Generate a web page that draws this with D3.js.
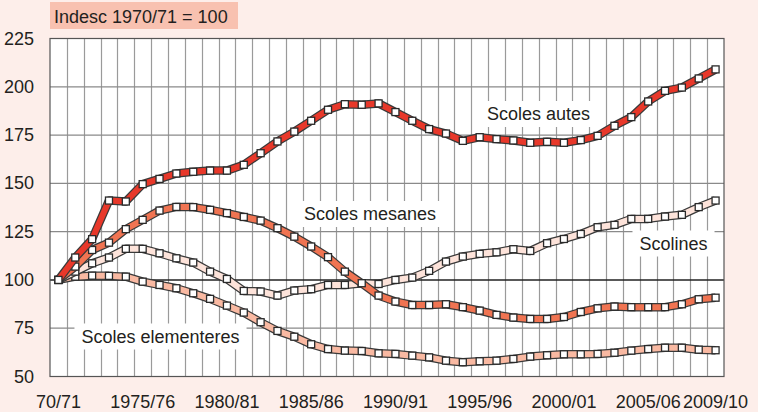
<!DOCTYPE html>
<html>
<head>
<meta charset="utf-8">
<script src="https://cdn.jsdelivr.net/npm/d3@7"></script>
<style>
  body { margin: 0; background: #fdeeea; }
  svg { display: block; font-family: "Liberation Sans", Arial, sans-serif; }
</style>
</head>
<body>
<div id="chart"></div>
<script>
// school years 1970/71 .. 2009/10
var years = d3.range(1970, 2010).map(function (y) {
    return y + "/" + String((y + 1) % 100).padStart(2, "0");
});
var tickYears = ["1970/71", "1975/76", "1980/81", "1985/86", "1990/91", "1995/96", "2000/01", "2005/06", "2009/10"];
var tickLabels = ["70/71", "1975/76", "1980/81", "1985/86", "1990/91", "1995/96", "2000/01", "2005/06", "2009/10"];
var yTicks = [50, 75, 100, 125, 150, 175, 200, 225];

var autes = [100, 111.6, 121.1, 141.1, 140.6, 149.6, 152.3, 155.1, 156, 156.6,
    156.6, 159.6, 165.6, 171.7, 176.8, 182.4, 188.1, 191, 190.7, 191.4,
    186.9, 182.4, 178.1, 175.8, 172, 173.9, 172.9, 172.2, 171, 171.5,
    171, 172.4, 174.6, 179.8, 184.3, 192.4, 197.9, 199.6, 204.3, 209];
var mesanes = [100, 106.9, 115.5, 119.3, 126.3, 131.1, 135.9, 137.8, 137.7, 136.3,
    134.6, 132.6, 130.7, 126.8, 122.4, 117.3, 111.8, 104.3, 98.3, 91.9,
    88.8, 87, 87, 87.4, 85.9, 84.1, 81.9, 80.5, 79.8, 79.8,
    80.8, 83.4, 85.3, 86.2, 85.9, 85.9, 85.9, 87.4, 90, 90.8];
var scolines = [100, 104.3, 108.6, 111.6, 116.1, 116.1, 113.8, 111.2, 109, 104.3,
    100.5, 94.3, 94, 91.9, 94.5, 95.2, 97.4, 97.4, 98.3, 97.9,
    100, 101.2, 104.7, 109.5, 112.1, 113.5, 114.3, 115.9, 115, 119,
    121.2, 123.8, 127.3, 128.5, 131.6, 131.6, 132.8, 133.7, 137.7, 141.1];
var elementeres = [100, 101.7, 102.2, 102.1, 101.7, 99.1, 97.4, 95.7, 93.1, 90.2,
    86.7, 83.1, 78.1, 73.6, 70.6, 66.7, 64.2, 63.4, 63.2, 62,
    61.7, 60.8, 59.9, 58.2, 57.4, 57.9, 58.2, 59.1, 60.3, 61,
    61.5, 61.5, 61.7, 62.3, 63.4, 64.2, 64.9, 64.9, 63.9, 63.6];

var series = [
    { name: "Scoles elementeres", values: elementeres, color: "#f9b9a2", lx: 160.5, ly: 336.5 },
    { name: "Scolines", values: scolines, color: "#fde3da", lx: 673.5, ly: 243.5 },
    { name: "Scoles mesanes", values: mesanes, color: "#f07452", lx: 370, ly: 214 },
    { name: "Scoles autes", values: autes, color: "#e8382a", lx: 538.5, ly: 114 }
];

var width = 758, height = 412;
var margin = { top: 38.5, right: 34, bottom: 35.5, left: 50 };

var svg = d3.select("#chart").append("svg")
    .attr("width", width)
    .attr("height", height);

var x = d3.scaleBand().domain(years).range([margin.left, width - margin.right]);
var y = d3.scaleLinear().domain([50, 225]).range([height - margin.bottom, margin.top]);
var cx = function (i) { return x(years[i]) + x.bandwidth() / 2; };

// title box
var title = svg.append("g");
title.append("rect")
    .attr("x", margin.left).attr("y", 2)
    .attr("width", 188).attr("height", 27)
    .attr("fill", "#f8c1b0");
title.append("text")
    .attr("x", margin.left + 4).attr("y", 22.5)
    .attr("font-size", 18).attr("fill", "#231f20")
    .text("Indesc 1970/71 = 100");

// plot area
svg.append("rect")
    .attr("x", margin.left).attr("y", margin.top)
    .attr("width", width - margin.left - margin.right)
    .attr("height", height - margin.top - margin.bottom)
    .attr("fill", "#fff");

// vertical grid at band edges
svg.append("g").selectAll("line")
    .data(years.slice(1))
    .join("line")
    .attr("x1", function (d) { return Math.round(x(d)) + 0.5; })
    .attr("x2", function (d) { return Math.round(x(d)) + 0.5; })
    .attr("y1", margin.top).attr("y2", height - margin.bottom)
    .attr("stroke", "#9a9a9a").attr("stroke-width", 1.2);

// horizontal grid
svg.append("g").selectAll("line")
    .data(yTicks)
    .join("line")
    .attr("x1", margin.left).attr("x2", width - margin.right)
    .attr("y1", function (d) { return y(d); })
    .attr("y2", function (d) { return y(d); })
    .attr("stroke", function (d) { return d == 100 ? "#222" : "#8a8a8a"; })
    .attr("stroke-width", function (d) { return d == 100 ? 1.4 : 1.2; });

// frame
svg.append("rect")
    .attr("x", margin.left).attr("y", margin.top)
    .attr("width", width - margin.left - margin.right)
    .attr("height", height - margin.bottom - margin.top)
    .attr("fill", "none").attr("stroke", "#555").attr("stroke-width", 1.2);

// label boxes (white behind text, hide grid)
series.forEach(function (s) {
    var t = svg.append("text")
        .attr("x", s.lx).attr("y", s.ly)
        .attr("text-anchor", "middle").attr("dominant-baseline", "central")
        .attr("font-size", 18).attr("fill", "#231f20")
        .text(s.name);
    var bb = t.node().getBBox();
    svg.insert("rect", function () { return t.node(); })
        .attr("x", bb.x - 7).attr("y", bb.y - 3)
        .attr("width", bb.width + 14).attr("height", bb.height + 6)
        .attr("fill", "#fff");
});

var line = d3.line()
    .x(function (d, i) { return cx(i); })
    .y(function (d) { return y(d); });

series.forEach(function (s) {
    var g = svg.append("g");
    g.append("path")
        .attr("d", line(s.values))
        .attr("fill", "none").attr("stroke", "#3a3a3a")
        .attr("stroke-width", 8.5).attr("stroke-linejoin", "round");
    g.append("path")
        .attr("d", line(s.values))
        .attr("fill", "none").attr("stroke", s.color)
        .attr("stroke-width", 6).attr("stroke-linejoin", "round");
    g.selectAll("rect")
        .data(s.values)
        .join("rect")
        .attr("x", function (d, i) { return cx(i) - 3.5; })
        .attr("y", function (d) { return y(d) - 3.5; })
        .attr("width", 7).attr("height", 7)
        .attr("fill", "#fff").attr("stroke", "#2a2a2a").attr("stroke-width", 1.3);
});

// y tick labels
svg.append("g").selectAll("text")
    .data(yTicks)
    .join("text")
    .attr("x", 34).attr("y", function (d) { return y(d); })
    .attr("text-anchor", "end").attr("dominant-baseline", "central")
    .attr("font-size", 18).attr("fill", "#231f20")
    .text(function (d) { return d; });

// x tick labels
svg.append("g").selectAll("text")
    .data(tickYears)
    .join("text")
    .attr("x", function (d) { return x(d) + x.bandwidth() / 2; })
    .attr("y", 408)
    .attr("text-anchor", "middle")
    .attr("font-size", 18).attr("fill", "#231f20")
    .text(function (d, i) { return tickLabels[i]; });
</script>
</body>
</html>
